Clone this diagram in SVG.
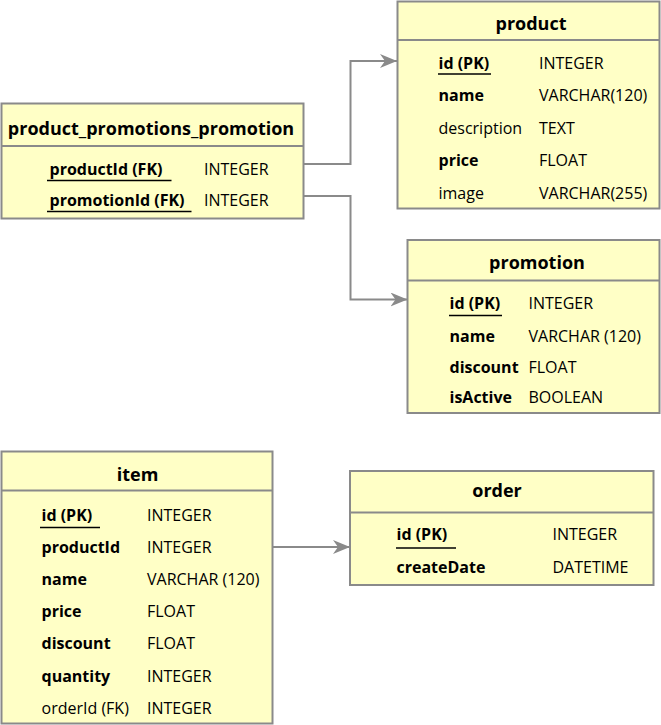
<svg xmlns="http://www.w3.org/2000/svg" width="661" height="725" viewBox="0 0 661 725">
<defs>
<style>
.box{fill:#ffffc6;stroke:#8a8a8a;stroke-width:2}
.div{stroke:#8a8a8a;stroke-width:2}
.ul{stroke:#000;stroke-width:1.5}
.t{font-family:"Open Sans","Noto Sans","DejaVu Sans",sans-serif;font-size:18px;font-weight:bold;fill:#000;text-anchor:middle}
.b{font-family:"Open Sans","Noto Sans","DejaVu Sans",sans-serif;font-size:16px;font-weight:bold;fill:#000}
.n{font-family:"Open Sans","Noto Sans","DejaVu Sans",sans-serif;font-size:16px;fill:#000}
.c{fill:none;stroke:#8a8a8a;stroke-width:2}
</style>
<marker id="arr" markerUnits="userSpaceOnUse" markerWidth="18" markerHeight="16" refX="17" refY="7" orient="auto">
<path d="M0,0 L17,7 L0,14 L5,7 Z" fill="#8a8a8a"/>
</marker>
</defs>
<g id="connectors">
<path class="c" d="M303.5,164 H350.5 V61 H397" marker-end="url(#arr)"/>
<path class="c" d="M303.5,196 H350.5 V299.5 H407.5" marker-end="url(#arr)"/>
<path class="c" d="M272.5,547 H350" marker-end="url(#arr)"/>
</g>
<g id="product_promotions_promotion">
<rect class="box" x="1.5" y="103.5" width="302" height="115"/>
<line class="div" x1="1.5" y1="146" x2="303.5" y2="146"/>
<text class="t" x="151" y="135">product_promotions_promotion</text>
<text class="b" x="49.5" y="175">productId (FK)</text>
<text class="n" x="204" y="175">INTEGER</text>
<line class="ul" x1="47" y1="180.5" x2="171.5" y2="180.5"/>
<text class="b" x="49.5" y="206">promotionId (FK)</text>
<text class="n" x="204" y="206">INTEGER</text>
<line class="ul" x1="47" y1="211.5" x2="191.5" y2="211.5"/>
</g>
<g id="product">
<rect class="box" x="397.5" y="1.5" width="262" height="207"/>
<line class="div" x1="397.5" y1="40" x2="659.5" y2="40"/>
<text class="t" x="531" y="30">product</text>
<text class="b" x="438.5" y="68.5">id (PK)</text>
<text class="n" x="539" y="68.5">INTEGER</text>
<line class="ul" x1="438" y1="74" x2="491" y2="74"/>
<text class="b" x="438.5" y="101">name</text>
<text class="n" x="539" y="101">VARCHAR(120)</text>
<text class="n" x="438.5" y="133.5">description</text>
<text class="n" x="539" y="133.5">TEXT</text>
<text class="b" x="438.5" y="166">price</text>
<text class="n" x="539" y="166">FLOAT</text>
<text class="n" x="438.5" y="198.5">image</text>
<text class="n" x="539" y="198.5">VARCHAR(255)</text>
</g>
<g id="promotion">
<rect class="box" x="407.5" y="240" width="252" height="173"/>
<line class="div" x1="407.5" y1="280.5" x2="659.5" y2="280.5"/>
<text class="t" x="537" y="269">promotion</text>
<text class="b" x="449.5" y="309">id (PK)</text>
<text class="n" x="528.5" y="309">INTEGER</text>
<line class="ul" x1="449" y1="315.5" x2="502" y2="315.5"/>
<text class="b" x="449.5" y="341.5">name</text>
<text class="n" x="528.5" y="341.5">VARCHAR (120)</text>
<text class="b" x="449.5" y="372.5">discount</text>
<text class="n" x="528.5" y="372.5">FLOAT</text>
<text class="b" x="449.5" y="403">isActive</text>
<text class="n" x="528.5" y="403">BOOLEAN</text>
</g>
<g id="item">
<rect class="box" x="1.5" y="451.5" width="271" height="272"/>
<line class="div" x1="1.5" y1="490.5" x2="272.5" y2="490.5"/>
<text class="t" x="137.5" y="481">item</text>
<text class="b" x="41.5" y="521">id (PK)</text>
<text class="n" x="147" y="521">INTEGER</text>
<line class="ul" x1="40" y1="527.5" x2="100" y2="527.5"/>
<text class="b" x="41.5" y="553">productId</text>
<text class="n" x="147" y="553">INTEGER</text>
<text class="b" x="41.5" y="585">name</text>
<text class="n" x="147" y="585">VARCHAR (120)</text>
<text class="b" x="41.5" y="617">price</text>
<text class="n" x="147" y="617">FLOAT</text>
<text class="b" x="41.5" y="649">discount</text>
<text class="n" x="147" y="649">FLOAT</text>
<text class="b" x="41.5" y="681.5">quantity</text>
<text class="n" x="147" y="681.5">INTEGER</text>
<text class="n" x="41.5" y="714">orderId (FK)</text>
<text class="n" x="147" y="714">INTEGER</text>
</g>
<g id="order">
<rect class="box" x="350" y="471" width="303.5" height="114"/>
<line class="div" x1="350" y1="512.5" x2="653.5" y2="512.5"/>
<text class="t" x="497" y="496.5">order</text>
<text class="b" x="396.5" y="540">id (PK)</text>
<text class="n" x="552.5" y="540">INTEGER</text>
<line class="ul" x1="396" y1="548" x2="456" y2="548"/>
<text class="b" x="396.5" y="572.5">createDate</text>
<text class="n" x="552.5" y="572.5">DATETIME</text>
</g>
</svg>
